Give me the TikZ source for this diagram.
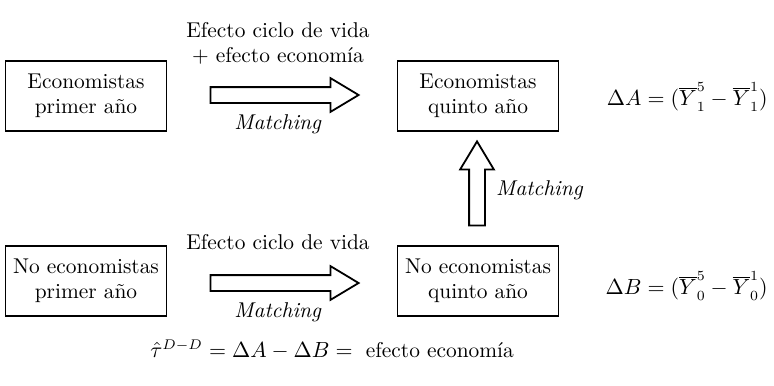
\documentclass[tikz,border=0pt]{standalone}
\usepackage{tikz}
\usetikzlibrary{shapes.arrows}
\usetikzlibrary{positioning}

\begin{document}
\begin{tikzpicture}[x=0.5pt,y=-0.5pt,
font=\fontsize{10.7}{12.5}\selectfont,
caja/.style={draw, line width=0.9pt, minimum width=80.5pt, minimum height=35pt, align=center, inner sep=1pt},
flecha/.style={single arrow, draw, line width=0.9pt, inner sep=3.5pt, single arrow head extend=4.5pt, single arrow tip angle=62, minimum height=74pt},
rotulo/.style={inner sep=0pt, align=center}]
\useasboundingbox (0,0) rectangle (774,385);
\node[caja] (econ1) at (86,96) {Economistas\\primer año};
\node[caja] (econ5) at (478,96) {Economistas\\quinto año};
\node[caja] (noecon1) at (86,281) {No economistas\\primer año};
\node[caja] (noecon5) at (478,281) {No economistas\\quinto año};
\node[flecha] (fA) at (278,95) {};
\node[flecha] (fB) at (278,283) {};
\node[flecha, minimum height=42pt, shape border rotate=90] (fC) at (477,190) {};
\node[rotulo, below=5pt of fA] (mA) {\textit{Matching}};
\node[rotulo, below=5pt of fB] (mB) {\textit{Matching}};
\node[rotulo, right=5pt of fC] (mC) {\textit{Matching}};
\node[rotulo, above=11pt of fA] (efA) {Efecto ciclo de vida\\+ efecto economía};
\node[rotulo, above=12pt of fB] (efB) {Efecto ciclo de vida};
\node[rotulo, anchor=east] (dA) at (768,97) {$\Delta A = (\overline{Y}_1^5 - \overline{Y}_1^1)$};
\node[rotulo, anchor=east] (dB) at (768,286) {$\Delta B = (\overline{Y}_0^5 - \overline{Y}_0^1)$};
\node[rotulo, anchor=west] (tau) at (150,350) {$\hat{\tau}^{D-D} = \Delta A - \Delta B = {}$ efecto economía};
\end{tikzpicture}
\end{document}
